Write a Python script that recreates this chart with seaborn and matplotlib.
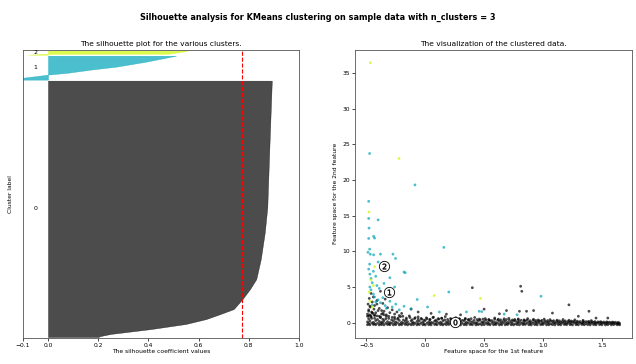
import matplotlib
matplotlib.use("Agg")
import matplotlib.pyplot as plt
import matplotlib.cm as cm
import numpy as np
import pandas as pd
import seaborn as sns

# ---------------- data ----------------
n_clusters = 3
cluster_sizes = [2570, 240, 40]
avg_silhouette = 0.773

# silhouette profiles (position within cluster fraction, sorted silhouette value)
c0_frac = [0, 0.004, 0.012, 0.031, 0.051, 0.070, 0.089, 0.109, 0.148, 0.187, 0.226, 0.304, 0.409, 0.506, 0.732, 1.0]
c0_vals = [0.20, 0.21, 0.25, 0.41, 0.55, 0.63, 0.685, 0.74, 0.775, 0.805, 0.83, 0.848, 0.864, 0.874, 0.882, 0.892]
c1_frac = [0, 0.08, 0.17, 0.21, 0.29, 0.42, 0.54, 0.75, 1.0]
c1_vals = [-0.15, -0.10, -0.03, 0.0, 0.08, 0.17, 0.27, 0.39, 0.51]
c2_frac = [0, 0.2, 0.25, 0.6, 1.0]
c2_vals = [-0.08, -0.02, 0.48, 0.52, 0.555]

# scatter data: cluster 0 band
xa = [-0.49, -0.47, -0.44, -0.42, -0.39, -0.37, -0.35, -0.32, -0.30, -0.27,
      -0.25, -0.22, -0.20, -0.17, -0.15, -0.12, -0.10, -0.07, -0.05, -0.02,
      0.00, 0.03, 0.05, 0.08, 0.10, 0.13, 0.15, 0.18, 0.20, 0.23,
      0.25, 0.28, 0.30, 0.33, 0.35, 0.38, 0.40, 0.43, 0.45, 0.48,
      0.50, 0.53, 0.55, 0.58, 0.60, 0.63, 0.65, 0.68, 0.70, 0.73,
      0.75, 0.78, 0.80, 0.83, 0.85, 0.88, 0.90, 0.93, 0.95, 0.98,
      1.00, 1.03, 1.05, 1.08, 1.10, 1.13, 1.15, 1.18, 1.20, 1.23,
      1.25, 1.28, 1.30, 1.33, 1.35, 1.38, 1.40, 1.43, 1.45, 1.48,
      1.50, 1.53, 1.55, 1.58, 1.60, 1.63, 1.65]
ya = [-0.28, -0.30, -0.25, -0.29, -0.31, -0.27, -0.30, -0.26, -0.29, -0.31,
      -0.27, -0.30, -0.28, -0.25, -0.31, -0.29, -0.27, -0.30, -0.26, -0.29,
      -0.31, -0.28, -0.30, -0.26, -0.29, -0.27, -0.31, -0.28, -0.25, -0.30,
      -0.29, -0.27, -0.31, -0.28, -0.30, -0.26, -0.29, -0.31, -0.27, -0.30,
      -0.28, -0.25, -0.30, -0.29, -0.27, -0.31, -0.28, -0.30, -0.26, -0.29,
      -0.31, -0.27, -0.30, -0.28, -0.25, -0.29, -0.31, -0.27, -0.30, -0.28,
      -0.26, -0.30, -0.29, -0.27, -0.31, -0.28, -0.30, -0.25, -0.29, -0.27,
      -0.31, -0.28, -0.30, -0.26, -0.29, -0.27, -0.31, -0.28, -0.30, -0.27,
      -0.29, -0.31, -0.28, -0.30, -0.27, -0.29, -0.30]
yb = [0.12, 0.25, 0.05, 0.30, 0.18, 0.08, 0.28, 0.15, 0.02, 0.22,
      0.10, 0.32, 0.06, 0.20, 0.14, 0.27, 0.03, 0.18, 0.24, 0.09,
      0.30, 0.12, 0.04, 0.22, 0.16, 0.07, 0.26, 0.11, 0.19, 0.02,
      0.24, 0.09, 0.15, 0.28, 0.05, 0.20, 0.13, 0.01, 0.23, 0.10,
      0.17, 0.06, 0.27, 0.12, 0.03, 0.21, 0.09, 0.18, 0.04, 0.14,
      0.25, 0.08, 0.16, 0.02, 0.20, 0.11, 0.05, 0.15, 0.07, 0.19,
      0.03, 0.13, 0.06, 0.17, 0.01, 0.10, 0.04, 0.12, 0.00, 0.08,
      0.14, 0.02, 0.09, -0.02, 0.06, 0.11, 0.00, 0.05, -0.03, 0.07,
      0.01, -0.04, 0.04, -0.02, 0.02, -0.05, -0.08]
xe = [-0.48, -0.455, -0.43, -0.405, -0.38, -0.36, -0.335, -0.31, -0.285, -0.26,
      -0.235, -0.21, -0.185, -0.16, -0.135, -0.11, -0.085, -0.06, -0.035, -0.01,
      0.015, 0.04, 0.065, 0.09, 0.115, 0.14, 0.165, 0.19, 0.215, 0.24,
      0.265, 0.29, 0.315, 0.34, 0.365, 0.39, 0.415, 0.44, 0.465, 0.49,
      0.515, 0.54, 0.565, 0.59, 0.615, 0.64, 0.665, 0.69, 0.715, 0.74,
      0.765, 0.79, 0.815, 0.84, 0.865, 0.89, 0.915, 0.94, 0.965, 0.99,
      1.015, 1.04, 1.065, 1.09, 1.115, 1.14, 1.165, 1.19, 1.215, 1.24,
      1.265, 1.29, 1.315, 1.34, 1.365, 1.39, 1.415, 1.44, 1.465, 1.49,
      1.515, 1.54, 1.565, 1.59, 1.615, 1.64]
ye1 = [-0.10, -0.05, -0.14, -0.08, -0.12, -0.02, -0.09, -0.15, -0.06, -0.11,
       -0.04, -0.13, -0.07, -0.10, -0.16, -0.03, -0.09, -0.12, -0.06, -0.14,
       -0.08, -0.11, -0.02, -0.13, -0.07, -0.10, -0.15, -0.05, -0.09, -0.12,
       -0.06, -0.14, -0.08, -0.11, -0.03, -0.13, -0.07, -0.10, -0.16, -0.04,
       -0.09, -0.12, -0.06, -0.14, -0.08, -0.11, -0.05, -0.13, -0.07, -0.10,
       -0.15, -0.04, -0.09, -0.12, -0.06, -0.14, -0.08, -0.11, -0.03, -0.13,
       -0.07, -0.10, -0.16, -0.05, -0.09, -0.12, -0.06, -0.14, -0.08, -0.11,
       -0.04, -0.13, -0.07, -0.10, -0.15, -0.06, -0.09, -0.12, -0.05, -0.14,
       -0.08, -0.11, -0.13, -0.10, -0.15, -0.17]
ye2 = [0.95, 0.60, 1.10, 0.45, 0.80, 1.30, 0.55, 0.90, 0.40, 0.75,
       0.50, 0.85, 0.38, 0.65, 0.95, 0.42, 0.70, 0.48, 0.60, 0.36,
       0.55, 0.44, 0.72, 0.35, 0.50, 0.62, 0.40, 0.46, 0.58, 0.34,
       0.45, 0.52, 0.33, 0.48, 0.40, 0.56, 0.32, 0.44, 0.38, 0.50,
       0.36, 0.42, 0.30, 0.47, 0.35, 0.40, 0.31, 0.44, 0.33, 0.38,
       0.29, 0.41, 0.34, 0.30, 0.37, 0.28, 0.35, 0.31, 0.26, 0.33,
       0.27, 0.30, 0.24, 0.28, 0.22, 0.26, 0.20, 0.25, 0.19, 0.23,
       0.18, 0.21, 0.16, 0.20, 0.15, 0.18, 0.13, 0.16, 0.12, 0.14,
       0.10, 0.12, 0.08, 0.09, 0.06, 0.05]
xc = [-0.48, -0.46, -0.43, -0.41, -0.38, -0.36, -0.33, -0.31, -0.28, -0.26,
      -0.23, -0.19, -0.16, -0.13, -0.09, -0.06, -0.03, 0.01, 0.04, 0.07,
      0.11, 0.14, 0.17, 0.22, 0.26, 0.29, 0.34, 0.37, 0.42, 0.46,
      0.51, 0.54, 0.59, 0.62, 0.67, 0.71, 0.76, 0.79, 0.84, 0.87,
      0.92, 0.96, 1.01, 1.06, 1.12, 1.17, 1.22, 1.27, 1.34, 1.41]
yc = [0.55, 0.80, 0.62, 0.95, 0.70, 0.48, 0.88, 0.60, 0.75, 0.52,
      0.66, 0.90, 0.45, 0.72, 0.58, 0.82, 0.50, 0.68, 0.44, 0.77,
      0.56, 0.62, 0.85, 0.48, 0.70, 0.54, 0.60, 0.46, 0.73, 0.51,
      0.58, 0.42, 0.66, 0.49, 0.55, 0.61, 0.45, 0.52, 0.40, 0.57,
      0.47, 0.38, 0.50, 0.43, 0.36, 0.45, 0.34, 0.40, 0.33, 0.30]
xl = [-0.49, -0.485, -0.48, -0.475, -0.47, -0.465, -0.46, -0.455, -0.45, -0.445,
      -0.44, -0.435, -0.43, -0.42, -0.41, -0.40, -0.39, -0.38, -0.37, -0.36,
      -0.35, -0.34, -0.33, -0.32, -0.30, -0.28, -0.26, -0.24, -0.22, -0.20,
      -0.49, -0.48, -0.47, -0.46, -0.45, -0.43, -0.41, -0.39, -0.37, -0.35]
yl = [1.2, 2.6, 1.8, 3.4, 1.1, 2.2, 4.1, 1.5, 2.9, 1.3,
      3.6, 1.9, 2.4, 1.4, 3.1, 1.7, 2.0, 4.4, 1.2, 2.7,
      1.6, 3.3, 1.1, 2.1, 1.4, 1.8, 1.2, 1.5, 1.0, 1.3,
      0.9, 1.6, 2.3, 0.95, 1.4, 1.0, 2.6, 0.9, 1.7, 1.1]
xo = [0.40, 0.81, 0.82, 1.22, 1.39, 0.50, 0.69, 0.92, 0.86, 0.80,
      1.08, 1.55, 1.45, -0.12, -0.06, 0.05, 0.18, 0.30, 0.63, 1.30]
yo = [4.9, 5.1, 4.4, 2.5, 1.6, 1.9, 1.7, 1.7, 1.6, 1.6,
      1.35, 0.65, 0.65, 1.9, 1.5, 1.3, 1.2, 1.1, 1.25, 0.9]

# cluster 1 (teal)
x1 = [-0.472, -0.087, -0.48, -0.48, -0.40, -0.477, -0.48, -0.438, -0.43, 0.158,
      -0.472, -0.466, -0.438, -0.38, -0.274, -0.252, -0.472, -0.486, -0.17, -0.068,
      0.20, -0.12, 0.983, 0.458, -0.48, -0.47, -0.46, -0.45, -0.44, -0.42,
      -0.41, -0.47, -0.46, -0.44, -0.43, -0.40, -0.38, -0.36, -0.34, -0.33,
      -0.45, -0.42, -0.39, -0.35, -0.30, -0.28, -0.25, -0.22, -0.18, -0.30,
      -0.26, -0.40, -0.36, 0.02, 0.12, 0.35, 0.48, 0.67, 0.78, -0.18]
y1 = [23.7, 19.3, 17.0, 14.6, 14.4, 13.25, 11.8, 12.1, 11.85, 10.55,
      10.3, 9.6, 9.5, 9.6, 9.6, 9.0, 8.2, 9.86, 7.0, 3.25,
      4.3, 1.95, 3.7, 1.6, 7.5, 6.8, 6.2, 5.6, 7.2, 6.5,
      5.2, 5.0, 4.6, 4.0, 3.6, 3.2, 2.8, 3.5, 2.4, 2.0,
      2.5, 2.9, 4.8, 5.5, 3.0, 2.2, 2.6, 1.8, 2.3, 6.3,
      5.0, 8.5, 7.8, 2.2, 1.5, 1.5, 1.55, 1.2, 1.1, 7.1]

# cluster 2 (yellow-green)
x2 = [-0.466, -0.223, -0.477, -0.43, -0.475, 0.469, 0.076, -0.46, -0.44, -0.47, -0.45]
y2 = [36.4, 23.0, 15.5, 7.85, 4.3, 3.4, 3.8, 6.0, 5.2, 3.0, 2.2]

# cluster centers
center_x = [0.25, -0.305, -0.35]
center_y = [0.15, 4.3, 8.0]

# ---------------- figure ----------------
fs_tick = 4.3
plt.rcParams.update({
    "font.family": ["DejaVu Sans"],
    "xtick.labelsize": fs_tick,
    "ytick.labelsize": fs_tick,
    "xtick.major.size": 2,
    "ytick.major.size": 2,
    "xtick.major.width": 0.5,
    "ytick.major.width": 0.5,
    "xtick.major.pad": 1.5,
    "ytick.major.pad": 1.5,
    "axes.linewidth": 0.6,
    "axes.edgecolor": "#555555",
})

fig = plt.figure(figsize=(6.36, 3.64), dpi=100)
ax1 = fig.add_axes([0.036, 0.0714, 0.434, 0.792])
ax2 = fig.add_axes([0.558, 0.0714, 0.436, 0.792])

profiles = [(c0_frac, c0_vals), (c1_frac, c1_vals), (c2_frac, c2_vals)]
y_lower = 10
for i, (fr, vals) in enumerate(profiles):
    size = cluster_sizes[i]
    ys = y_lower + np.array(fr) * size
    color = cm.nipy_spectral(float(i) / n_clusters)
    ax1.fill_betweenx(ys, 0, vals, facecolor=color, edgecolor=color, alpha=0.7, lw=0.3)
    ax1.text(-0.05, y_lower + 0.5 * size, str(i), fontsize=4.5, ha="center", va="center")
    y_lower = y_lower + size + 10

ax1.set_title("The silhouette plot for the various clusters.", fontsize=5.4, pad=2.5)
ax1.set_xlabel("The silhouette coefficient values", fontsize=4.3, labelpad=1)
ax1.set_ylabel("Cluster label", fontsize=4.3, labelpad=7)
ax1.axvline(x=avg_silhouette, color="red", linestyle="--", lw=0.8)
ax1.set_yticks([])
ax1.set_xticks([-0.1, 0, 0.2, 0.4, 0.6, 0.8, 1])
ax1.set_xlim(-0.1, 1.0)
ax1.set_ylim(0, sum(cluster_sizes) + (n_clusters + 1) * 10)

# scatter
px = xa + xa + xe + xe + xc + xl + xo + x1 + x2
py = ya + yb + ye1 + ye2 + yc + yl + yo + y1 + y2
n0 = len(xa) * 2 + len(xe) * 2 + len(xc) + len(xl) + len(xo)
lab = [0] * n0 + [1] * len(x1) + [2] * len(x2)
df = pd.DataFrame({"x": px, "y": py, "cluster": lab})
palette = {k: cm.nipy_spectral(k / n_clusters) for k in range(n_clusters)}
sns.scatterplot(data=df, x="x", y="y", hue="cluster", palette=palette, s=4,
                linewidth=0, alpha=0.7, legend=False, ax=ax2)
cdf = pd.DataFrame({"x": center_x, "y": center_y})
sns.scatterplot(data=cdf, x="x", y="y", marker="o", color="white", s=55,
                edgecolor="k", linewidth=0.6, alpha=1, legend=False, ax=ax2, zorder=3)
for i in range(n_clusters):
    ax2.scatter(center_x[i], center_y[i], marker="$%d$" % i, s=16, color="k",
                edgecolor="k", linewidth=0.3, zorder=4)

ax2.set_title("The visualization of the clustered data.", fontsize=5.4, pad=2.5)
ax2.set_xlabel("Feature space for the 1st feature", fontsize=4.3, labelpad=1)
ax2.set_ylabel("Feature space for the 2nd feature", fontsize=4.3, labelpad=3)
ax2.set_xticks([-0.5, 0.0, 0.5, 1.0, 1.5])
ax2.set_yticks([0, 5, 10, 15, 20, 25, 30, 35])

fig.suptitle("Silhouette analysis for KMeans clustering on sample data with n_clusters = 3",
             fontsize=5.9, fontweight="bold", y=0.953, va="center")

fig.savefig("out.png", dpi=100)
